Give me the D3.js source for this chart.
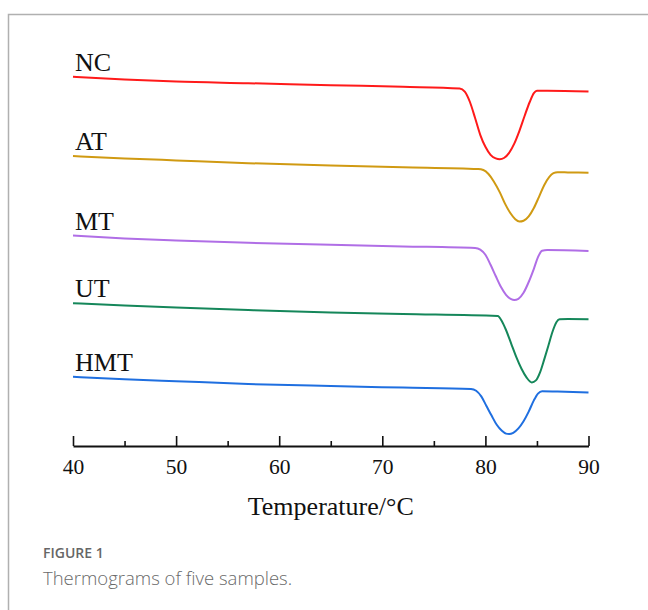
<html>
<head>
<meta charset="utf-8">
<script src="https://cdnjs.cloudflare.com/ajax/libs/d3/7.8.5/d3.min.js"></script>
<style>
  body { margin: 0; background: #fff; }
  svg { display: block; }
</style>
</head>
<body>
<svg width="648" height="610"></svg>
<script>
// sample names, top to bottom
const samples = ["NC", "AT", "MT", "UT", "HMT"];
const colors = ["#ff1a1a", "#d09a12", "#b06ee6", "#15875a", "#1f6fe0"];

// [temperature (°C), heat flow (offset, a.u.)]
const ncData = [
  [40, 92.3], [45, 91.6], [50, 91.1], [57, 90.7], [65, 90.2], [72, 89.8], [77.5, 89.4],
  [78.0, 88.6], [78.5, 86.0], [79.0, 82.0], [79.5, 77.8], [80.0, 74.8], [80.5, 72.8],
  [81.0, 71.9], [81.4, 71.7], [81.8, 72.0], [82.3, 73.3], [82.8, 75.6], [83.3, 78.8],
  [83.8, 82.5], [84.3, 86.0], [84.7, 88.2], [85.0, 88.8], [86, 88.8], [90, 88.6]
];
const atData = [
  [40, 72.5], [45, 71.9], [50, 71.4], [57, 70.7], [65, 70.1], [72, 69.7], [79.3, 69.25],
  [79.8, 69.0], [80.3, 68.0], [80.8, 66.2], [81.4, 63.4], [81.9, 60.6], [82.4, 58.3],
  [82.9, 56.7], [83.3, 56.1], [83.7, 56.3], [84.2, 57.4], [84.7, 59.5], [85.2, 62.3],
  [85.7, 65.2], [86.2, 67.3], [86.6, 68.2], [87.0, 68.45], [88, 68.4], [90, 68.3]
];
const mtData = [
  [40, 52.6], [45, 51.9], [50, 51.4], [57, 50.8], [65, 50.3], [72, 49.9], [79.0, 49.5],
  [79.5, 49.1], [80.0, 47.8], [80.5, 45.3], [81.0, 42.5], [81.5, 39.8], [82.0, 37.8],
  [82.5, 36.7], [82.8, 36.5], [83.2, 36.8], [83.7, 38.3], [84.2, 41.0], [84.7, 44.3],
  [85.1, 47.2], [85.5, 48.8], [86, 49.0], [90, 48.75]
];
const utData = [
  [40, 35.7], [45, 35.1], [50, 34.6], [57, 34.0], [65, 33.4], [72, 33.0], [81.2, 32.5],
  [81.6, 31.2], [82.0, 29.0], [82.5, 25.6], [83.0, 22.2], [83.5, 19.3], [84.0, 17.1],
  [84.5, 15.9], [84.9, 16.4], [85.3, 18.4], [85.7, 21.6], [86.1, 25.0], [86.5, 28.5],
  [86.9, 31.0], [87.2, 31.7], [88, 31.75], [90, 31.7]
];
const hmtData = [
  [40, 17.3], [45, 16.7], [50, 16.2], [57, 15.5], [65, 15.0], [72, 14.6], [78.6, 14.25],
  [79.1, 13.8], [79.6, 12.4], [80.1, 10.0], [80.6, 7.6], [81.1, 5.3], [81.6, 3.8],
  [82.0, 3.1], [82.3, 3.0], [82.7, 3.3], [83.2, 4.4], [83.7, 6.2], [84.2, 8.6],
  [84.7, 11.4], [85.1, 13.1], [85.5, 13.7], [87, 13.6], [90, 13.4]
];
const series = [ncData, atData, mtData, utData, hmtData];

const majorTicks = [40, 50, 60, 70, 80, 90];
const minorTicks = [45, 55, 65, 75, 85];
const xTitle = "Temperature/°C";
const figLabel = "FIGURE 1";
const figCaption = "Thermograms of five samples.";

const svg = d3.select("svg");
const serif = "'Liberation Serif', 'Times New Roman', serif";

// frame (top + left rule)
svg.append("path")
   .attr("d", "M8.5,610 V14.5 H648")
   .attr("fill", "none")
   .attr("stroke", "#b0b0b0")
   .attr("stroke-width", 1.5);

const x = d3.scaleLinear().domain([40, 90]).range([73, 588.5]);
const y = d3.scaleLinear().domain([0, 100]).range([446, 46]);

const line = d3.line()
   .x(d => x(d[0]))
   .y(d => y(d[1]))
   .curve(d3.curveMonotoneX);

const plot = svg.append("g");

plot.selectAll(".trace")
   .data(series)
   .join("path")
   .attr("class", "trace")
   .attr("d", line)
   .attr("fill", "none")
   .attr("stroke", (d, i) => colors[i])
   .attr("stroke-width", 2);

plot.selectAll(".name")
   .data(series)
   .join("text")
   .attr("class", "name")
   .attr("x", d => x(d[0][0]) + 2)
   .attr("y", d => y(d[0][1]) - 6)
   .text((d, i) => samples[i])
   .attr("fill", "#111")
   .attr("font-size", 26)
   .attr("style", "font-family:" + serif);

// x axis, ticks pointing inward
const axisY = 446;
const xAxis = d3.axisBottom(x)
   .tickValues(majorTicks)
   .tickSizeInner(-10)
   .tickSizeOuter(0)
   .tickPadding(12.5);

const ax = svg.append("g")
   .attr("transform", `translate(0, ${axisY})`)
   .call(xAxis);
ax.select(".domain").attr("stroke", "#111").attr("stroke-width", 2);
ax.selectAll(".tick line").attr("stroke", "#111").attr("stroke-width", 1.6);
ax.selectAll(".tick text")
   .attr("fill", "#111")
   .attr("font-size", 21.5)
   .attr("style", "font-family:" + serif);

const minorAxis = d3.axisBottom(x)
   .tickValues(minorTicks)
   .tickSizeInner(-5)
   .tickSizeOuter(0)
   .tickFormat("");
const mx = svg.append("g")
   .attr("transform", `translate(0, ${axisY})`)
   .call(minorAxis);
mx.select(".domain").remove();
mx.selectAll(".tick line").attr("stroke", "#111").attr("stroke-width", 1.6);

svg.append("text")
   .attr("x", (x(40) + x(90)) / 2)
   .attr("y", 515)
   .attr("text-anchor", "middle")
   .attr("fill", "#111")
   .attr("font-size", 26)
   .attr("style", "font-family:" + serif)
   .text(xTitle);

// caption
svg.append("text")
   .attr("x", 43)
   .attr("y", 558)
   .attr("fill", "#666")
   .attr("font-size", 14)
   .attr("font-weight", 600)
   .attr("style", "font-family:'Open Sans', sans-serif;")
   .text(figLabel);

svg.append("text")
   .attr("x", 43)
   .attr("y", 585)
   .attr("fill", "#6a6a6a")
   .attr("font-size", 18.5)
   .attr("font-weight", 300)
   .attr("style", "font-family:'Open Sans', sans-serif;")
   .text(figCaption);
</script>
</body>
</html>
